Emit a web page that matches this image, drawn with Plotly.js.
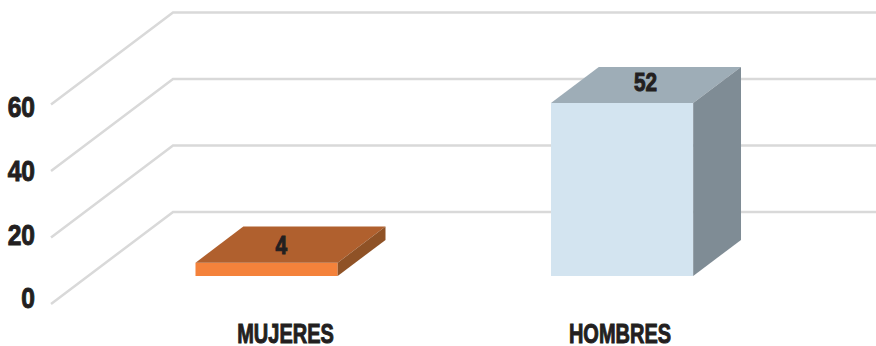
<!DOCTYPE html>
<html>
<head>
<meta charset="utf-8">
<script src="https://cdn.plot.ly/plotly-3.0.1.min.js"></script>
<style>
html, body { margin: 0; padding: 0; background: #fff; }
#chart { width: 876px; height: 346px; }
/* heavier strokes for the condensed labels */
#chart .xtick text, #chart .y2tick text, #chart .annotation-text {
  stroke: #231f20; stroke-width: 1px;
}
</style>
</head>
<body>
<div id="chart"></div>
<script>
// Chart data
const categories = ['MUJERES', 'HOMBRES'];
const values = [4, 52];
const gridValues = [0, 20, 40, 60];
const frontColors = ['#f4823b', '#d3e4f0'];
const topColors = ['#b0602e', '#9eadb7'];
const sideColors = ['#8f5226', '#7f8c95'];

// Oblique projection: depth d runs from 0 (front of floor) to 1 (back wall)
const DEPTH_X = 0.3432;
const DEPTH_Y = 27.7;
const project = (x, v, d) => [x + DEPTH_X * d, v + DEPTH_Y * d];

const BAR_HALF = 0.2;
const BAR_FRONT = 0.304;
const BAR_BACK = 0.696;
const FLOOR_LEFT = -0.5021;
const FLOOR_RIGHT = 1.8186;
const TEXT = '#231f20';
const FONT = '"Liberation Sans", Arial, sans-serif';

function polygon(points, color) {
  return {
    type: 'scatter', mode: 'lines', fill: 'toself', fillcolor: color,
    x: points.map(p => p[0]), y: points.map(p => p[1]),
    line: { width: 0, color: color }, hoverinfo: 'skip', showlegend: false
  };
}

const traces = [];

// Floor edge rising to the back wall, then running along it
gridValues.forEach(v => {
  const pts = [project(FLOOR_LEFT, v, 0), project(FLOOR_LEFT, v, 1), [FLOOR_RIGHT, v + DEPTH_Y]];
  traces.push({
    type: 'scatter', mode: 'lines',
    x: pts.map(p => p[0]), y: pts.map(p => p[1]),
    line: { color: '#d9d9d9', width: 2.5 }, hoverinfo: 'skip', showlegend: false
  });
});

// Each bar is three faces of a box
values.forEach((v, i) => {
  const l = i - BAR_HALF, r = i + BAR_HALF;
  traces.push(polygon([project(l, 0, BAR_FRONT), project(r, 0, BAR_FRONT), project(r, v, BAR_FRONT), project(l, v, BAR_FRONT), project(l, 0, BAR_FRONT)], frontColors[i]));
  traces.push(polygon([project(l, v, BAR_FRONT), project(r, v, BAR_FRONT), project(r, v, BAR_BACK), project(l, v, BAR_BACK), project(l, v, BAR_FRONT)], topColors[i]));
  traces.push(polygon([project(r, 0, BAR_FRONT), project(r, 0, BAR_BACK), project(r, v, BAR_BACK), project(r, v, BAR_FRONT), project(r, 0, BAR_FRONT)], sideColors[i]));
});

// Carries the value axis labels on the overlaid axis
traces.push({
  type: 'scatter', mode: 'markers', yaxis: 'y2',
  x: gridValues.map(() => FLOOR_LEFT), y: gridValues,
  marker: { opacity: 0, size: 1 }, hoverinfo: 'skip', showlegend: false
});

// Value labels sit on the centre of each top face
const labelNudgeX = [-9, -1];
const labelNudgeY = [0, 3];
const annotations = values.map((v, i) => {
  const c = project(i, v, (BAR_FRONT + BAR_BACK) / 2);
  return {
    x: c[0], y: c[1], xref: 'x', yref: 'y', text: String(v), showarrow: false,
    xshift: labelNudgeX[i], yshift: labelNudgeY[i],
    font: { family: FONT, size: 26, weight: 'bold', color: TEXT }
  };
});

const layout = {
  width: 876, height: 346,
  margin: { l: 0, r: 0, t: 0, b: 0 },
  paper_bgcolor: '#fff', plot_bgcolor: '#fff',
  showlegend: false,
  xaxis: {
    range: [-0.6456, 1.8186], showgrid: false, zeroline: false, showline: false,
    tickmode: 'array', tickvals: [0.1575, 1.0985], ticktext: categories, ticks: '',
    anchor: 'free', position: 0.09,
    tickfont: { family: FONT, size: 27, weight: 'bold', color: TEXT }
  },
  yaxis: { range: [-12.63, 91.43], visible: false, fixedrange: true },
  yaxis2: {
    overlaying: 'y', side: 'left', anchor: 'free', position: 0.04,
    range: [-15.08, 93.6], showgrid: false, zeroline: false, showline: false,
    tickmode: 'array', tickvals: gridValues, ticktext: gridValues.map(String), ticks: '',
    tickfont: { family: FONT, size: 30, weight: 'bold', color: TEXT }
  },
  annotations: annotations
};

// Squeeze a text horizontally around a fixed point of its own box
function condense(el, factor, anchor) {
  const box = el.getBBox();
  const ox = box.x + box.width * anchor;
  const prior = el.getAttribute('transform') || '';
  el.setAttribute('transform', `${prior} translate(${ox},0) scale(${factor},1) translate(${-ox},0)`);
}

Plotly.newPlot('chart', traces, layout, { displayModeBar: false, staticPlot: true }).then(gd => {
  gd.querySelectorAll('.xtick text').forEach(el => condense(el, 0.74, 0.5));
  gd.querySelectorAll('.y2tick text').forEach(el => condense(el, 0.82, 1));
  gd.querySelectorAll('.annotation-text').forEach(el => condense(el, 0.8, 0.5));
});
</script>
</body>
</html>
